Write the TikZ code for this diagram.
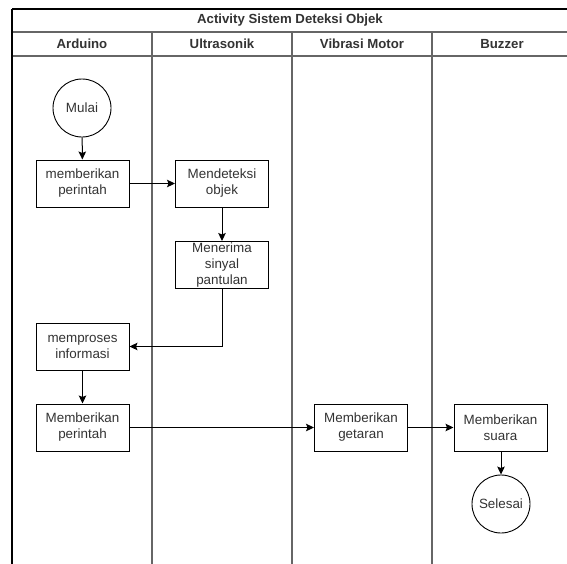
\documentclass[tikz,border=0pt]{standalone}
\usepackage{fontspec}
\setmainfont{Liberation Sans}
\usetikzlibrary{arrows.meta}
\definecolor{lanegray}{HTML}{666666}
\definecolor{txtgray}{HTML}{333333}
\tikzset{
  stepbox/.style={draw=black, line width=1pt, minimum width=93pt, minimum height=47pt, inner xsep=2pt, inner ysep=0pt, align=center, text=txtgray, font=\fontsize{13.4}{16}\selectfont},
  termcircle/.style={draw=black, line width=0.9pt, circle, minimum size=58pt, inner sep=0pt, text=txtgray, font=\fontsize{13.4}{16}\selectfont},
  flow/.style={line width=1pt, -{Stealth[length=8pt,width=7.5pt,inset=1.5pt]}},
  laneline/.style={draw=lanegray, line width=1.4pt},
  framelineblk/.style={draw=black, line width=1.5pt},
  headtext/.style={font=\bfseries\fontsize{13.2}{15}\selectfont, text=txtgray, inner sep=0pt}
}
\begin{document}
\begin{tikzpicture}[x=1pt,y=-1pt]
\clip (0,0) rectangle (567,563);
\fill[white] (0,0) rectangle (567,563);
% frame and lanes
\draw[laneline] (12,32) -- (580,32);
\draw[laneline] (12,56) -- (580,56);
\draw[laneline] (152,32) -- (152,570);
\draw[laneline] (292,32) -- (292,570);
\draw[laneline] (432,32) -- (432,570);
\draw[framelineblk] (12,9) -- (580,9);
\draw[framelineblk] (12,9) -- (12,570);
% header texts
\node[headtext] (title) at (290,20.5) {Activity Sistem Deteksi Objek};
\node[headtext] (h1) at (82,44) {Arduino};
\node[headtext] (h2) at (222,44) {Ultrasonik};
\node[headtext] (h3) at (362,44) {Vibrasi Motor};
\node[headtext] (h4) at (502,44) {Buzzer};
% nodes
\node[termcircle] (mulai) at (82,108) {Mulai};
\node[stepbox] (perintah1) at (82.5,183.5) {memberikan\\perintah};
\node[stepbox] (deteksi) at (222,183.5) {Mendeteksi\\objek};
\node[stepbox] (terima) at (222,265) {Menerima\\sinyal\\pantulan};
\node[stepbox] (proses) at (82.5,346.5) {memproses\\informasi};
\node[stepbox] (perintah2) at (82.5,427.5) {Memberikan\\perintah};
\node[stepbox] (getaran) at (361,427.5) {Memberikan\\getaran};
\node[stepbox] (suara) at (500.5,427.5) {Memberikan\\suara};
\node[termcircle] (selesai) at (501,504) {Selesai};
% connectors
\draw[flow] (mulai) -- (perintah1);
\draw[flow] (perintah1) -- (deteksi);
\draw[flow] (deteksi) -- (terima);
\draw[flow] (terima.south) |- (proses.east);
\draw[flow] (proses) -- (perintah2);
\draw[flow] (perintah2) -- (getaran);
\draw[flow] (getaran) -- (suara);
\draw[flow] (suara.south -| selesai.north) -- (selesai.north);
\end{tikzpicture}
\end{document}
